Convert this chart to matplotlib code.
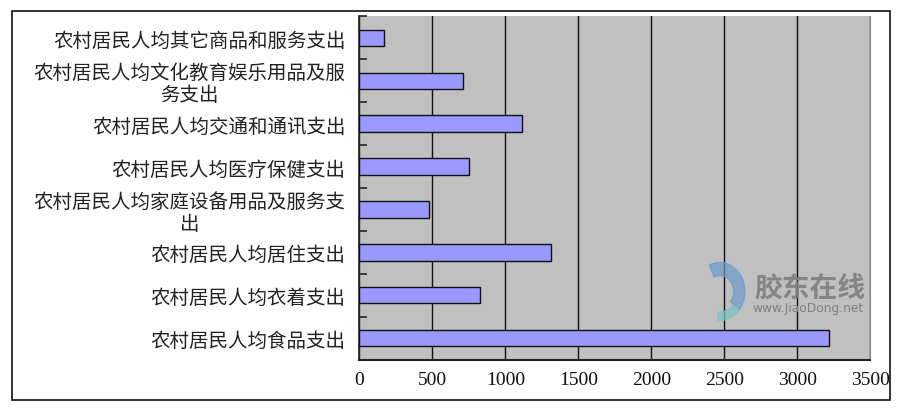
import matplotlib.pyplot as plt
from matplotlib.patches import Rectangle, Wedge

plt.rcParams['font.family'] = ['Noto Sans CJK SC', 'DejaVu Sans']

categories = [
    "农村居民人均食品支出",
    "农村居民人均衣着支出",
    "农村居民人均居住支出",
    "农村居民人均家庭设备用品及服务支\n出",
    "农村居民人均医疗保健支出",
    "农村居民人均交通和通讯支出",
    "农村居民人均文化教育娱乐用品及服\n务支出",
    "农村居民人均其它商品和服务支出",
]
values = [3215, 829, 1315, 479, 753, 1116, 708, 171]
xticks = [0, 500, 1000, 1500, 2000, 2500, 3000, 3500]

fig = plt.figure(figsize=(9.03, 4.14), dpi=100)
ax = fig.add_axes([0.3979, 0.1287, 0.5659, 0.8295])
ax.set_facecolor("#C0C0C0")

ypos = list(range(len(categories)))
ax.barh(ypos, values, height=0.38, color="#9999FF", edgecolor="#111111",
        linewidth=1.0, zorder=3)

ax.set_xlim(0, 3500)
ax.set_ylim(-0.5, len(categories) - 0.5)
ax.set_xticks(xticks)
ax.set_xticklabels([str(t) for t in xticks], family="Liberation Serif",
                   fontsize=14, color="#111111")
ax.set_yticks(ypos)
ax.set_yticklabels(categories, fontsize=14, color="#222222",
                   multialignment="center", linespacing=1.05)
ax.set_yticks([y + 0.5 for y in ypos[:-1]] + [len(categories) - 0.5],
              minor=True)

ax.tick_params(axis="x", length=0, pad=8)
ax.tick_params(axis="y", which="major", length=0, pad=10)
ax.tick_params(axis="y", which="minor", direction="in", length=6,
               width=1.2, color="#222222")

ax.grid(axis="x", color="#111111", linewidth=1.0, zorder=1)
ax.set_axisbelow(True)

ax.spines["top"].set_visible(False)
ax.spines["right"].set_color("#8a8a8a")
ax.spines["left"].set_color("#222222")
ax.spines["left"].set_linewidth(1.2)
ax.spines["bottom"].set_color("#222222")
ax.spines["bottom"].set_linewidth(1.5)

# watermark text
ax.text(2709, 1.19, "胶东在线", fontsize=20, fontweight="bold",
        color="#7f7f7f", alpha=0.9, zorder=2, va="center", ha="left")
ax.text(2690, 0.72, "www.JiaoDong.net", fontsize=8.8, family="DejaVu Sans",
        color="#808080", zorder=2, va="center", ha="left")

# watermark logo
logo = fig.add_axes([0.775, 0.2126, 0.061, 0.1546])
logo.set_xlim(-1.1, 1.1)
logo.set_ylim(-1.1, 1.1)
logo.axis("off")
logo.add_patch(Wedge((-0.3, 0.05), 1.0, -40, 115, width=0.45,
                     color="#6b9acb", alpha=0.7))
logo.add_patch(Wedge((-0.3, 0.05), 1.0, -95, -40, width=0.3,
                     color="#7cc4c4", alpha=0.7))

# outer border
fig.patches.append(Rectangle((0.013, 0.0314), 0.9727, 0.9403,
                             transform=fig.transFigure, fill=False,
                             edgecolor="#111111", linewidth=1.2))

fig.savefig("out.png", dpi=100)
